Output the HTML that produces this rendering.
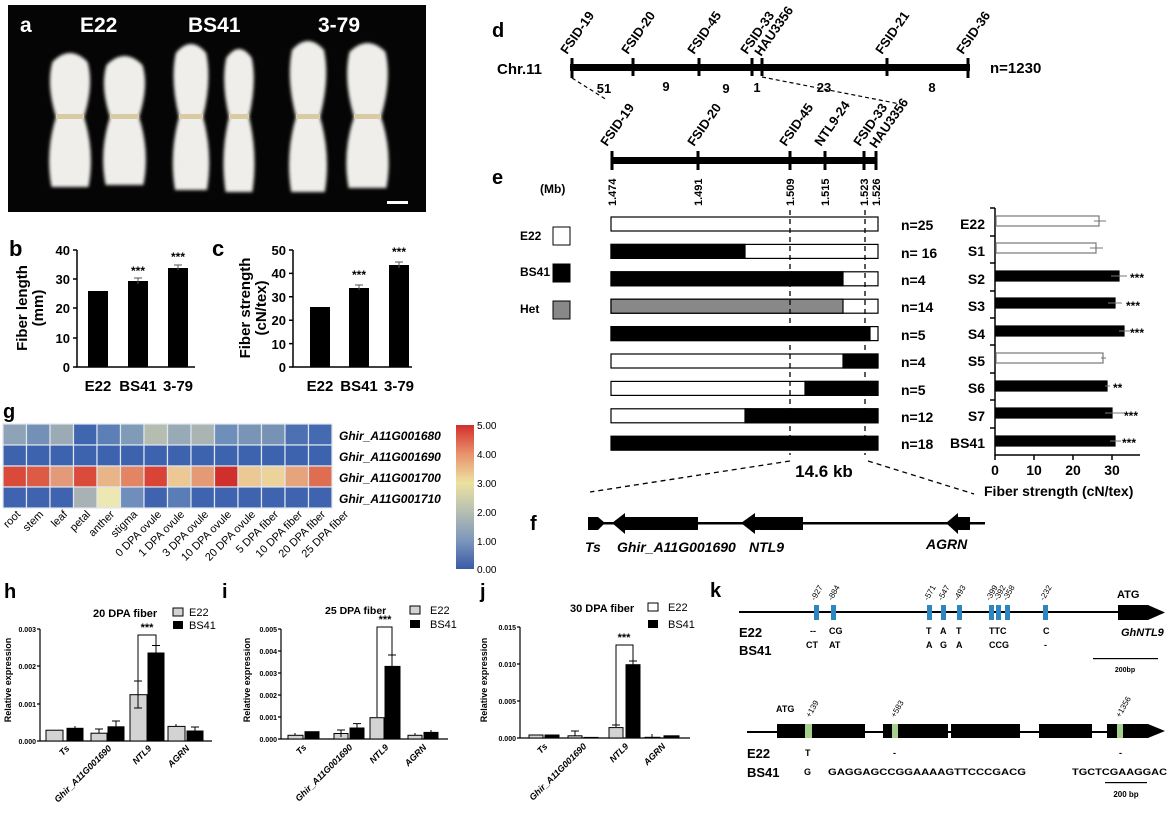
<!DOCTYPE html>
<html><head><meta charset="utf-8"><style>
html,body{margin:0;padding:0;background:#fff;overflow:hidden;}
svg{display:block;font-family:"Liberation Sans",Arial,sans-serif;font-weight:bold;}
</style></head><body>
<svg width="1168" height="817" viewBox="0 0 1168 817" xmlns="http://www.w3.org/2000/svg">
<defs>
<linearGradient id="cb" x1="0" y1="1" x2="0" y2="0">
<stop offset="0" stop-color="#3a5aa8"/><stop offset="0.2" stop-color="#7d97bb"/><stop offset="0.4" stop-color="#b7bfb2"/><stop offset="0.6" stop-color="#ece2a0"/><stop offset="0.8" stop-color="#e8926b"/><stop offset="1" stop-color="#d32f2c"/>
</linearGradient>
<filter id="bl"><feGaussianBlur stdDeviation="1.6"/></filter>
</defs>

<!-- Panel a -->
<rect x="8" y="5" width="418" height="207" fill="#050505"/>
<g fill="#efeeea" filter="url(#bl)">
<path d="M52.4,62 Q70,44 87.6,62 Q94,84.5 84,117 Q95,152 88.5,187 L51.5,187 Q45,152 56,117 Q46,84.5 52.4,62 Z"/>
<path d="M106.5,65 Q124.5,47 142.5,65 Q149,86 139,117 Q150,151 143.4,185 L105.6,185 Q99,151 110,117 Q100,86 106.5,65 Z"/>
<path d="M175.8,53 Q191,35 206.2,53 Q212,80 203,117 Q213,153.5 207,190 L175,190 Q169,153.5 179,117 Q170,80 175.8,53 Z"/>
<path d="M226.2,58 Q239,40 251.8,58 Q257,82.5 249,117 Q258,154.5 252.4,192 L225.6,192 Q220,154.5 229,117 Q221,82.5 226.2,58 Z"/>
<path d="M292,50 Q308,32 324,50 Q330,78.5 320,117 Q331,154.5 324.8,192 L291.2,192 Q285,154.5 296,117 Q286,78.5 292,50 Z"/>
<path d="M349.5,52 Q367.5,34 385.5,52 Q392,79.5 381,117 Q393,152.5 386.4,188 L348.6,188 Q342,152.5 354,117 Q343,79.5 349.5,52 Z"/>
</g>
<g fill="#d8cba4"><rect x="56" y="114" width="28" height="5"/><rect x="110" y="114" width="29" height="5"/><rect x="179" y="114" width="24" height="5"/><rect x="229" y="114" width="20" height="5"/><rect x="296" y="114" width="24" height="5"/><rect x="354" y="114" width="27" height="5"/></g>
<rect x="387" y="201" width="21" height="3" fill="#fff"/>
<g fill="#fff" font-size="21"><text x="20" y="32">a</text><text x="80" y="32">E22</text><text x="188" y="32">BS41</text><text x="318" y="32">3-79</text></g>

<!-- Panel b -->
<text x="9" y="256" font-size="22">b</text>
<g stroke="#000" stroke-width="1.5" fill="none"><path d="M77,250 V367 H195"/><path d="M73,250H77M73,279H77M73,308H77M73,338H77M73,367H77"/></g>
<g font-size="13" text-anchor="end"><text x="70" y="255">40</text><text x="70" y="284">30</text><text x="70" y="313">20</text><text x="70" y="343">10</text><text x="70" y="372">0</text></g>
<rect x="88" y="291" width="20" height="76"/><rect x="128" y="281" width="20" height="86"/><rect x="168" y="268" width="20" height="99"/>
<g stroke="#555" stroke-width="1"><path d="M134,278H142M138,278V284M174,265H182M178,265V270"/></g>
<g font-size="12" text-anchor="middle"><text x="138" y="275">***</text><text x="178" y="261">***</text></g>
<g font-size="15" text-anchor="middle"><text x="98" y="391">E22</text><text x="138" y="391">BS41</text><text x="178" y="391">3-79</text></g>
<g font-size="15" text-anchor="middle"><text transform="translate(27,308) rotate(-90)">Fiber length</text><text transform="translate(43,308) rotate(-90)">(mm)</text></g>

<!-- Panel c -->
<text x="212" y="256" font-size="22">c</text>
<g stroke="#000" stroke-width="1.5" fill="none"><path d="M293,250 V367 H412"/><path d="M289,250H293M289,273.4H293M289,296.8H293M289,320.2H293M289,343.6H293M289,367H293"/></g>
<g font-size="13" text-anchor="end"><text x="286" y="255">50</text><text x="286" y="278">40</text><text x="286" y="302">30</text><text x="286" y="325">20</text><text x="286" y="349">10</text><text x="286" y="372">0</text></g>
<rect x="310" y="307" width="20" height="60"/><rect x="349" y="288" width="20" height="79"/><rect x="389" y="265" width="20" height="102"/>
<g stroke="#555" stroke-width="1"><path d="M355,285H363M359,285V290M395,262H403M399,262V268"/></g>
<g font-size="12" text-anchor="middle"><text x="359" y="279">***</text><text x="399" y="256">***</text></g>
<g font-size="15" text-anchor="middle"><text x="320" y="391">E22</text><text x="359" y="391">BS41</text><text x="399" y="391">3-79</text></g>
<g font-size="15" text-anchor="middle"><text transform="translate(250,308) rotate(-90)">Fiber strength</text><text transform="translate(266,308) rotate(-90)">(cN/tex)</text></g>

<!-- Panel d -->
<text x="492" y="37" font-size="20">d</text>
<text x="497" y="74" font-size="15">Chr.11</text>
<rect x="570" y="64" width="400" height="7"/>
<g stroke="#000" stroke-width="3"><path d="M572,58V78M633,58V76M699,58V76M752,58V76M762,58V76M887,58V76M968,58V78"/></g>
<g font-size="13"><text transform="translate(567,55) rotate(-55)">FSID-19</text><text transform="translate(628,55) rotate(-55)">FSID-20</text><text transform="translate(694,55) rotate(-55)">FSID-45</text><text transform="translate(747,55) rotate(-55)">FSID-33</text><text transform="translate(761,57) rotate(-55)">HAU3356</text><text transform="translate(882,55) rotate(-55)">FSID-21</text><text transform="translate(963,55) rotate(-55)">FSID-36</text></g>
<text x="990" y="73" font-size="15">n=1230</text>
<g font-size="13" text-anchor="middle"><text x="604" y="93">51</text><text x="666" y="91">9</text><text x="726" y="93">9</text><text x="757" y="92">1</text><text x="824" y="92">23</text><text x="932" y="92">8</text></g>
<g stroke="#000" stroke-width="1.2" stroke-dasharray="4,3"><path d="M572,78L607,100M762,77L900,104"/></g>

<!-- Panel e -->
<text x="492" y="184" font-size="20">e</text>
<rect x="611" y="157" width="266" height="7"/>
<g stroke="#000" stroke-width="3"><path d="M612,151V170M698,151V170M790,151V170M825,151V170M864,151V170M876,151V170"/></g>
<g font-size="13"><text transform="translate(607,147) rotate(-55)">FSID-19</text><text transform="translate(694,147) rotate(-55)">FSID-20</text><text transform="translate(786,147) rotate(-55)">FSID-45</text><text transform="translate(821,147) rotate(-55)">NTL9-24</text><text transform="translate(860,147) rotate(-55)">FSID-33</text><text transform="translate(876,149) rotate(-55)">HAU3356</text></g>
<g font-size="11"><text transform="translate(616,206) rotate(-90)">1.474</text><text transform="translate(702,206) rotate(-90)">1.491</text><text transform="translate(794,206) rotate(-90)">1.509</text><text transform="translate(829,206) rotate(-90)">1.515</text><text transform="translate(868,206) rotate(-90)">1.523</text><text transform="translate(880,206) rotate(-90)">1.526</text></g>
<text x="540" y="193" font-size="12">(Mb)</text>

<g font-size="12"><text x="520" y="240">E22</text><text x="520" y="276">BS41</text><text x="520" y="313">Het</text></g>
<rect x="553" y="227" width="17" height="18" fill="#fff" stroke="#000"/>
<rect x="553" y="264" width="17" height="18" fill="#000" stroke="#000"/>
<rect x="553" y="301" width="17" height="18" fill="#888" stroke="#000"/>

<g stroke="#000" stroke-width="1.2">
<rect x="611" y="217" width="267" height="14" fill="#fff"/>
<rect x="611" y="244.4" width="267" height="14" fill="#fff"/><rect x="611" y="244.4" width="134" height="14" fill="#000"/>
<rect x="611" y="271.8" width="267" height="14" fill="#fff"/><rect x="611" y="271.8" width="232" height="14" fill="#000"/>
<rect x="611" y="299.2" width="267" height="14" fill="#fff"/><rect x="611" y="299.2" width="232" height="14" fill="#888"/>
<rect x="611" y="326.6" width="267" height="14" fill="#fff"/><rect x="611" y="326.6" width="259" height="14" fill="#000"/>
<rect x="611" y="354" width="267" height="14" fill="#fff"/><rect x="843" y="354" width="35" height="14" fill="#000"/>
<rect x="611" y="381.4" width="267" height="14" fill="#fff"/><rect x="805" y="381.4" width="73" height="14" fill="#000"/>
<rect x="611" y="408.8" width="267" height="14" fill="#fff"/><rect x="745" y="408.8" width="133" height="14" fill="#000"/>
<rect x="611" y="436.2" width="267" height="14" fill="#000"/>
</g>
<g stroke="#000" stroke-width="1.3" stroke-dasharray="5,4"><path d="M790,210V455M865,210V455"/></g>
<g font-size="14"><text x="901" y="230">n=25</text><text x="901" y="258">n= 16</text><text x="901" y="285">n=4</text><text x="901" y="312">n=14</text><text x="901" y="340">n=5</text><text x="901" y="367">n=4</text><text x="901" y="395">n=5</text><text x="901" y="422">n=12</text><text x="901" y="449">n=18</text></g>

<g font-size="14" text-anchor="end"><text x="985" y="229">E22</text><text x="985" y="256">S1</text><text x="985" y="284">S2</text><text x="985" y="311">S3</text><text x="985" y="339">S4</text><text x="985" y="366">S5</text><text x="985" y="393">S6</text><text x="985" y="421">S7</text><text x="985" y="448">BS41</text></g>
<g stroke="#000" stroke-width="1.5" fill="none"><path d="M995,208V455H1140"/><path d="M990,208H995M990,236H995M990,263H995M990,291H995M990,318H995M990,345H995M990,373H995M990,400H995M990,428H995M995,455V460M1034,455V460M1073,455V460M1112,455V460"/></g>
<g stroke="#777" stroke-width="1.2">
<rect x="996" y="216" width="103" height="10" fill="#fff"/>
<rect x="996" y="243" width="100" height="10" fill="#fff"/>
<rect x="996" y="271" width="123" height="10" fill="#000" stroke="#000"/>
<rect x="996" y="298" width="119" height="10" fill="#000" stroke="#000"/>
<rect x="996" y="326" width="128" height="10" fill="#000" stroke="#000"/>
<rect x="996" y="353" width="107" height="10" fill="#fff"/>
<rect x="996" y="381" width="111" height="10" fill="#000" stroke="#000"/>
<rect x="996" y="408" width="116" height="10" fill="#000" stroke="#000"/>
<rect x="996" y="436" width="119" height="10" fill="#000" stroke="#000"/>
</g>
<g stroke="#777" stroke-width="1" fill="none"><path d="M1094,221H1106M1090,248H1103M1111,276H1127M1108,303H1122M1119,331H1130M1101,358H1106M1105,386H1110M1105,413H1125M1110,441H1121"/></g>
<g font-size="12"><text x="1130" y="282">***</text><text x="1126" y="310">***</text><text x="1130" y="337">***</text><text x="1113" y="392">**</text><text x="1124" y="420">***</text><text x="1122" y="447">***</text></g>
<g font-size="14" text-anchor="middle"><text x="995" y="475">0</text><text x="1034" y="475">10</text><text x="1073" y="475">20</text><text x="1112" y="475">30</text></g>
<text x="984" y="496" font-size="14">Fiber strength (cN/tex)</text>
<text x="824" y="477" font-size="17" text-anchor="middle">14.6 kb</text>
<g stroke="#000" stroke-width="1.3" stroke-dasharray="5,4"><path d="M790,461L590,492M868,461L974,494"/></g>

<!-- Panel f -->
<text x="530" y="530" font-size="20">f</text>
<rect x="588" y="522" width="397" height="2.5"/>
<path d="M588,517H598L605,523L598,530H588Z"/>
<path d="M612,523L625,513V517H698V530H625V534Z"/>
<path d="M741,523L755,513V517H803V530H755V534Z"/>
<path d="M946,523L958,513V517H970V530H958V534Z"/>
<g font-size="14" font-style="italic"><text x="585" y="552">Ts</text><text x="617" y="552">Ghir_A11G001690</text><text x="749" y="552">NTL9</text><text x="926" y="549">AGRN</text></g>

<!-- Panel g -->
<text x="3" y="418" font-size="20">g</text>
<g stroke="#dfe6ee" stroke-width="1.2">
<g transform="translate(3,424)">
<rect x="0" y="0" width="23.5" height="21" fill="#8fa3b6"/><rect x="23.5" y="0" width="23.5" height="21" fill="#7490b7"/><rect x="47" y="0" width="23.5" height="21" fill="#9aabb5"/><rect x="70.5" y="0" width="23.5" height="21" fill="#4066b0"/><rect x="94" y="0" width="23.5" height="21" fill="#5c80b5"/><rect x="117.5" y="0" width="23.5" height="21" fill="#7f9bb8"/><rect x="141" y="0" width="23.5" height="21" fill="#b5bdb0"/><rect x="164.5" y="0" width="23.5" height="21" fill="#98aab6"/><rect x="188" y="0" width="23.5" height="21" fill="#aab4b3"/><rect x="211.5" y="0" width="23.5" height="21" fill="#6f8fba"/><rect x="235" y="0" width="23.5" height="21" fill="#7a94b5"/><rect x="258.5" y="0" width="23.5" height="21" fill="#7892b5"/><rect x="282" y="0" width="23.5" height="21" fill="#4d70b3"/><rect x="305.5" y="0" width="23.5" height="21" fill="#456ab2"/>
</g>
<g transform="translate(3,445)" fill="#3d62ae">
<rect x="0" width="23.5" height="21"/><rect x="23.5" width="23.5" height="21"/><rect x="47" width="23.5" height="21"/><rect x="70.5" width="23.5" height="21"/><rect x="94" width="23.5" height="21"/><rect x="117.5" width="23.5" height="21"/><rect x="141" width="23.5" height="21"/><rect x="164.5" width="23.5" height="21"/><rect x="188" width="23.5" height="21"/><rect x="211.5" width="23.5" height="21"/><rect x="235" width="23.5" height="21"/><rect x="258.5" width="23.5" height="21"/><rect x="282" width="23.5" height="21"/><rect x="305.5" width="23.5" height="21"/>
</g>
<g transform="translate(3,466)">
<rect x="0" width="23.5" height="21" fill="#d94a3a"/><rect x="23.5" width="23.5" height="21" fill="#dd5a44"/><rect x="47" width="23.5" height="21" fill="#e49a78"/><rect x="70.5" width="23.5" height="21" fill="#da4b3b"/><rect x="94" width="23.5" height="21" fill="#e9b487"/><rect x="117.5" width="23.5" height="21" fill="#e38462"/><rect x="141" width="23.5" height="21" fill="#d94436"/><rect x="164.5" width="23.5" height="21" fill="#ebc894"/><rect x="188" width="23.5" height="21" fill="#e49a74"/><rect x="211.5" width="23.5" height="21" fill="#d0302b"/><rect x="235" width="23.5" height="21" fill="#ebc894"/><rect x="258.5" width="23.5" height="21" fill="#ecd39c"/><rect x="282" width="23.5" height="21" fill="#e6a47d"/><rect x="305.5" width="23.5" height="21" fill="#de6d52"/>
</g>
<g transform="translate(3,487)" fill="#3f63ae">
<rect x="0" width="23.5" height="21"/><rect x="23.5" width="23.5" height="21"/><rect x="47" width="23.5" height="21"/><rect x="70.5" width="23.5" height="21" fill="#a8b2b4"/><rect x="94" width="23.5" height="21" fill="#ece7b3"/><rect x="117.5" width="23.5" height="21" fill="#6f8ebb"/><rect x="141" width="23.5" height="21"/><rect x="164.5" width="23.5" height="21" fill="#5a7db8"/><rect x="188" width="23.5" height="21"/><rect x="211.5" width="23.5" height="21"/><rect x="235" width="23.5" height="21"/><rect x="258.5" width="23.5" height="21"/><rect x="282" width="23.5" height="21"/><rect x="305.5" width="23.5" height="21"/>
</g>
</g>
<g font-size="12" font-style="italic"><text x="339" y="440">Ghir_A11G001680</text><text x="339" y="461">Ghir_A11G001690</text><text x="339" y="482">Ghir_A11G001700</text><text x="339" y="503">Ghir_A11G001710</text></g>
<g font-size="11" font-weight="normal" text-anchor="end">
<text transform="translate(21,515) rotate(-45)">root</text><text transform="translate(44,515) rotate(-45)">stem</text><text transform="translate(68,515) rotate(-45)">leaf</text><text transform="translate(91,515) rotate(-45)">petal</text><text transform="translate(115,515) rotate(-45)">anther</text><text transform="translate(138,515) rotate(-45)">stigma</text><text transform="translate(162,515) rotate(-45)">0 DPA ovule</text><text transform="translate(185,515) rotate(-45)">1 DPA ovule</text><text transform="translate(209,515) rotate(-45)">3 DPA ovule</text><text transform="translate(232,515) rotate(-45)">10 DPA ovule</text><text transform="translate(256,515) rotate(-45)">20 DPA ovule</text><text transform="translate(279,515) rotate(-45)">5 DPA fiber</text><text transform="translate(303,515) rotate(-45)">10 DPA fiber</text><text transform="translate(326,515) rotate(-45)">20 DPA fiber</text><text transform="translate(349,515) rotate(-45)">25 DPA fiber</text>
</g>
<rect x="456" y="425" width="18" height="144" fill="url(#cb)"/>
<g font-size="10" font-weight="normal"><text x="477" y="429">5.00</text><text x="477" y="458">4.00</text><text x="477" y="487">3.00</text><text x="477" y="516">2.00</text><text x="477" y="545">1.00</text><text x="477" y="573">0.00</text></g>

<!-- Panel h -->
<text x="4" y="598" font-size="20">h</text>
<g stroke="#000" stroke-width="1.2" fill="none"><path d="M40,629V741H212M37,629H40M37,666H40M37,704H40M37,741H40"/></g>
<g font-size="7" text-anchor="end"><text x="36" y="632">0.003</text><text x="36" y="669">0.002</text><text x="36" y="707">0.001</text><text x="36" y="744">0.000</text></g>
<g stroke="#000" stroke-width="1">
<rect x="46" y="730.2" width="17" height="10.8" fill="#d3d3d3"/><rect x="67" y="728.3" width="16" height="12.7" fill="#000"/>
<rect x="91" y="733.2" width="16" height="7.8" fill="#d3d3d3"/><rect x="108" y="726.8" width="16" height="14.2" fill="#000"/>
<rect x="130" y="694.7" width="17" height="46.3" fill="#d3d3d3"/><rect x="148" y="653" width="16" height="88" fill="#000"/>
<rect x="168" y="726.4" width="17" height="14.6" fill="#d3d3d3"/><rect x="187" y="731" width="16" height="10" fill="#000"/>
</g>
<g stroke="#000" stroke-width="1" fill="none"><path d="M138,681V708M134,681H142M134,708H142M156,653V645.5M152,645.5H160M116,727V721M112,721H120M99,733V729M95,729H103M75,728V726M176,726V724M195,731V727M191,727H199M138,681V635H156V645"/></g>
<text x="147" y="631" font-size="11" text-anchor="middle">***</text>
<text x="93" y="617" font-size="11">20 DPA fiber</text>
<rect x="173" y="608" width="10" height="8" fill="#d3d3d3" stroke="#000"/><rect x="173" y="621" width="10" height="8" fill="#000"/>
<g font-size="11" font-weight="normal"><text x="189" y="616">E22</text><text x="189" y="629">BS41</text></g>
<text transform="translate(11,680) rotate(-90)" font-size="9" text-anchor="middle">Relative expression</text>
<g font-size="9" font-style="italic" text-anchor="end"><text transform="translate(70,749) rotate(-45)">Ts</text><text transform="translate(112,749) rotate(-45)">Ghir_A11G001690</text><text transform="translate(152,749) rotate(-45)">NTL9</text><text transform="translate(190,749) rotate(-45)">AGRN</text></g>

<!-- Panel i -->
<text x="222" y="598" font-size="20">i</text>
<g stroke="#000" stroke-width="1.2" fill="none"><path d="M281,629V739H448M278,629H281M278,651H281M278,673H281M278,695H281M278,717H281M278,739H281"/></g>
<g font-size="7" text-anchor="end"><text x="277" y="632">0.005</text><text x="277" y="654">0.004</text><text x="277" y="676">0.003</text><text x="277" y="698">0.002</text><text x="277" y="720">0.001</text><text x="277" y="742">0.000</text></g>
<g stroke="#000" stroke-width="1">
<rect x="288" y="735.3" width="15" height="3.7" fill="#d3d3d3"/><rect x="305" y="731.7" width="14" height="7.3" fill="#000"/>
<rect x="334" y="733.5" width="14" height="5.5" fill="#d3d3d3"/><rect x="350" y="728" width="14" height="11" fill="#000"/>
<rect x="370" y="717.7" width="14" height="21.3" fill="#d3d3d3"/><rect x="385" y="666.4" width="15" height="72.6" fill="#000"/>
<rect x="408" y="735.3" width="14" height="3.7" fill="#d3d3d3"/><rect x="424" y="732.4" width="14" height="6.6" fill="#000"/>
</g>
<g stroke="#000" stroke-width="1" fill="none"><path d="M392,666V655M388,655H396M341,737V730M337,730H345M357,728V723.6M353,723.6H361M295,735V733M415,735V733M431,732V730M377,717V627H392V655"/></g>
<text x="385" y="623" font-size="11" text-anchor="middle">***</text>
<text x="325" y="614" font-size="10.5">25 DPA fiber</text>
<rect x="410" y="606" width="10" height="8" fill="#d3d3d3" stroke="#000"/><rect x="410" y="620" width="10" height="8" fill="#000"/>
<g font-size="11" font-weight="normal"><text x="430" y="614">E22</text><text x="430" y="628">BS41</text></g>
<text transform="translate(250,680) rotate(-90)" font-size="9" text-anchor="middle">Relative expression</text>
<g font-size="9" font-style="italic" text-anchor="end"><text transform="translate(307,748) rotate(-45)">Ts</text><text transform="translate(353,748) rotate(-45)">Ghir_A11G001690</text><text transform="translate(389,748) rotate(-45)">NTL9</text><text transform="translate(427,748) rotate(-45)">AGRN</text></g>

<!-- Panel j -->
<text x="480" y="598" font-size="20">j</text>
<g stroke="#000" stroke-width="1.2" fill="none"><path d="M520,627V738H690M517,627H520M517,664H520M517,701H520M517,738H520"/></g>
<g font-size="7" text-anchor="end"><text x="516" y="630">0.015</text><text x="516" y="667">0.010</text><text x="516" y="704">0.005</text><text x="516" y="741">0.000</text></g>
<g stroke="#000" stroke-width="1">
<rect x="529" y="735" width="14" height="3" fill="#d3d3d3"/><rect x="545" y="735" width="14" height="3" fill="#000"/>
<rect x="568" y="735.8" width="14" height="2.2" fill="#d3d3d3"/><rect x="584" y="737.4" width="14" height="0.6" fill="#000"/>
<rect x="609" y="727.6" width="14" height="10.4" fill="#d3d3d3"/><rect x="626" y="664.7" width="14" height="73.3" fill="#000"/>
<rect x="645" y="737.3" width="15" height="0.7" fill="#d3d3d3"/><rect x="664" y="735.8" width="15" height="2.2" fill="#000"/>
</g>
<g stroke="#000" stroke-width="1" fill="none"><path d="M633,665V661M629,661H637M616,727V725M612,725H620M575,736V731M571,731H579M652,737V734M616,725V645H633V661"/></g>
<text x="624" y="641" font-size="11" text-anchor="middle">***</text>
<text x="570" y="612" font-size="11">30 DPA fiber</text>
<rect x="648" y="603" width="10" height="8" fill="#fff" stroke="#000"/><rect x="648" y="620" width="10" height="8" fill="#000"/>
<g font-size="11" font-weight="normal"><text x="668" y="611">E22</text><text x="668" y="628">BS41</text></g>
<text transform="translate(487,680) rotate(-90)" font-size="9" text-anchor="middle">Relative expression</text>
<g font-size="9" font-style="italic" text-anchor="end"><text transform="translate(548,747) rotate(-45)">Ts</text><text transform="translate(587,747) rotate(-45)">Ghir_A11G001690</text><text transform="translate(629,747) rotate(-45)">NTL9</text><text transform="translate(666,747) rotate(-45)">AGRN</text></g>

<!-- Panel k -->
<text x="710" y="597" font-size="20">k</text>
<rect x="739" y="611" width="380" height="2"/>
<path d="M1118,605H1148L1165,612.5L1148,620H1118Z"/>
<g fill="#2e86c1"><rect x="814" y="605" width="5" height="15"/><rect x="831" y="605" width="5" height="15"/><rect x="927" y="605" width="5" height="15"/><rect x="941" y="605" width="5" height="15"/><rect x="957" y="605" width="5" height="15"/><rect x="989" y="605" width="5" height="15"/><rect x="996" y="605" width="5" height="15"/><rect x="1005" y="605" width="5" height="15"/><rect x="1043" y="605" width="5" height="15"/></g>
<g font-size="8" font-weight="normal"><text transform="translate(815,601) rotate(-60)">-927</text><text transform="translate(832,601) rotate(-60)">-884</text><text transform="translate(928,601) rotate(-60)">-571</text><text transform="translate(942,601) rotate(-60)">-547</text><text transform="translate(958,601) rotate(-60)">-493</text><text transform="translate(990,601) rotate(-60)">-399</text><text transform="translate(998,601) rotate(-60)">-392</text><text transform="translate(1007,601) rotate(-60)">-358</text><text transform="translate(1044,601) rotate(-60)">-232</text></g>
<text x="1117" y="598" font-size="11">ATG</text>
<g font-size="13"><text x="739" y="637">E22</text><text x="739" y="655">BS41</text></g>
<g font-size="9"><text x="810" y="634">--</text><text x="829" y="634">CG</text><text x="806" y="648">CT</text><text x="829" y="648">AT</text>
<text x="926" y="634">T</text><text x="940" y="634">A</text><text x="956" y="634">T</text><text x="926" y="648">A</text><text x="940" y="648">G</text><text x="956" y="648">A</text>
<text x="989" y="634">TTC</text><text x="989" y="648">CCG</text><text x="1043" y="634">C</text><text x="1044" y="648">-</text></g>
<text x="1121" y="636" font-size="11" font-style="italic">GhNTL9</text>
<rect x="1093" y="658" width="65" height="1.2"/>
<text x="1125" y="672" font-size="7" text-anchor="middle">200bp</text>

<rect x="747" y="731" width="400" height="2"/>
<g><rect x="777" y="724" width="88" height="14"/><rect x="883" y="724" width="65" height="14"/><rect x="951" y="724" width="69" height="14"/><rect x="1039" y="724" width="53" height="14"/><path d="M1107,724H1148L1165,731L1148,738H1107Z"/></g>
<g fill="#a8d08d"><rect x="805" y="724" width="7" height="14"/><rect x="892" y="724" width="6" height="14"/><rect x="1117" y="724" width="6" height="14"/></g>
<text x="776" y="712" font-size="9">ATG</text>
<g font-size="8" font-weight="normal"><text transform="translate(810,718) rotate(-60)">+139</text><text transform="translate(895,718) rotate(-60)">+583</text><text transform="translate(1120,718) rotate(-60)">+1356</text></g>
<g font-size="13"><text x="747" y="758">E22</text><text x="747" y="777">BS41</text></g>
<g font-size="9"><text x="805" y="756">T</text><text x="893" y="756">-</text><text x="1119" y="756">-</text><text x="804" y="775">G</text>
<text x="828" y="775" textLength="198" lengthAdjust="spacingAndGlyphs">GAGGAGCCGGAAAAGTTCCCGACG</text><text x="1072" y="775" textLength="95" lengthAdjust="spacingAndGlyphs">TGCTCGAAGGAC</text></g>
<rect x="1105" y="782" width="42" height="1.2"/>
<text x="1126" y="797" font-size="8" text-anchor="middle">200 bp</text>
</svg>
</body></html>
